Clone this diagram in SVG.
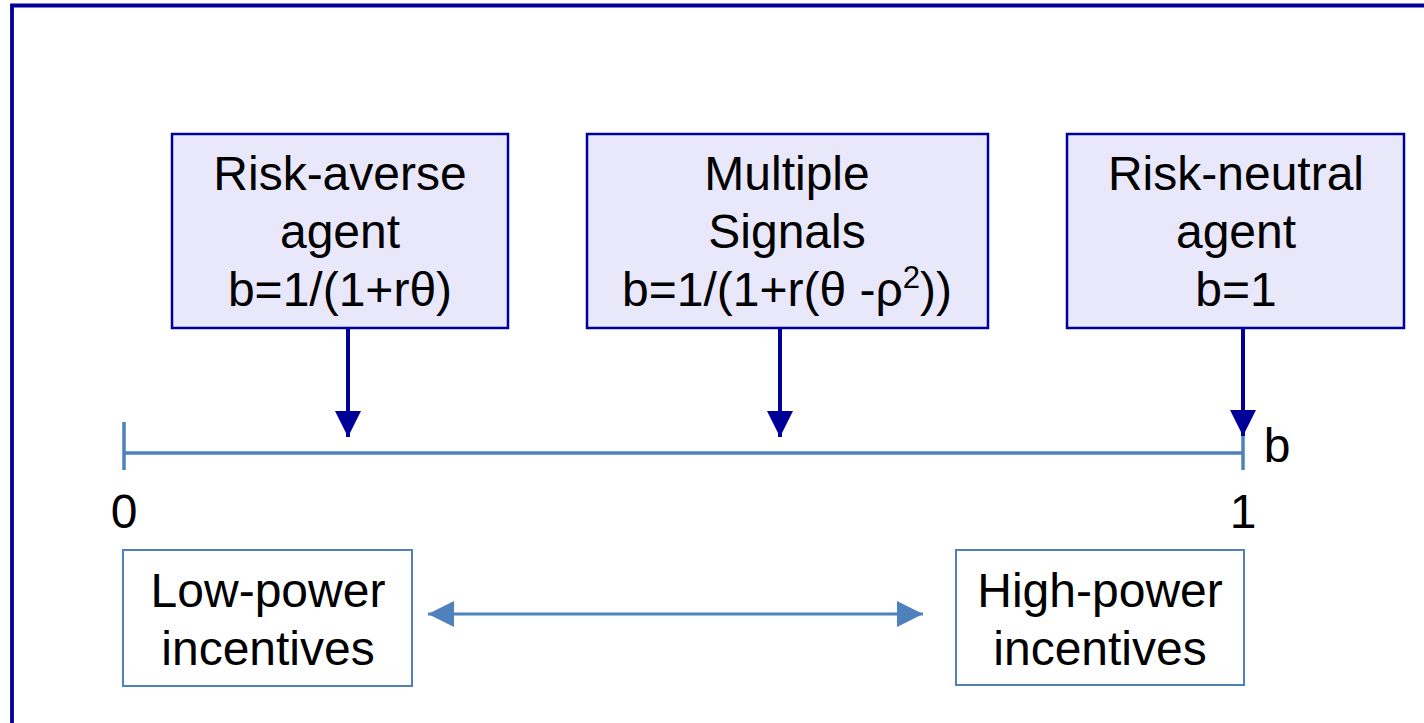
<svg xmlns="http://www.w3.org/2000/svg" width="1424" height="723" viewBox="0 0 1424 723">
<style>
text{font-family:"Liberation Sans",Arial,sans-serif;font-size:48px;fill:#000;text-anchor:middle}
.top{fill:#E8E8FA;stroke:#000099;stroke-width:2.5}
.bot{fill:#fff;stroke:#4F81BD;stroke-width:2}
.dark{stroke:#000099;stroke-width:4;fill:none}
.light{stroke:#4F81BD;stroke-width:3.5;fill:none}
</style>
<defs>
<marker id="ad" markerUnits="userSpaceOnUse" markerWidth="26" markerHeight="26" viewBox="0 0 26 26" refX="26" refY="13" orient="auto"><path d="M0,0 L26,13 L0,26 z" fill="#000099"/></marker>
<marker id="al" markerUnits="userSpaceOnUse" markerWidth="26" markerHeight="26" viewBox="0 0 26 26" refX="26" refY="13" orient="auto-start-reverse"><path d="M0,0 L26,13 L0,26 z" fill="#4F81BD"/></marker>
</defs>
<g id="frame"><path d="M12,723 V5.5 H1424" fill="none" stroke="#000099" stroke-width="3.8"/></g>
<g id="node-risk-averse"><rect class="top" x="172" y="134" width="336" height="194"/>
<text x="340" y="190">Risk-averse</text><text x="340" y="248">agent</text><text x="340" y="306">b=1/(1+rθ)</text></g>
<g id="node-multiple-signals"><rect class="top" x="587" y="134" width="401" height="194"/>
<text x="787" y="190">Multiple</text><text x="787" y="248">Signals</text><text x="787" y="306">b=1/(1+r(θ -ρ<tspan font-size="31" dy="-18">2</tspan><tspan dy="18">))</tspan></text></g>
<g id="node-risk-neutral"><rect class="top" x="1067" y="134" width="337" height="194"/>
<text x="1236" y="190">Risk-neutral</text><text x="1236" y="248">agent</text><text x="1236" y="306">b=1</text></g>
<g id="axis"><path class="light" d="M124,422 V470 M124,453 H1243 M1243,422 V470"/>
<text x="124" y="528">0</text><text x="1243" y="528">1</text><text x="1277" y="462">b</text></g>
<g id="node-low-power"><rect class="bot" x="123" y="550" width="289" height="136"/>
<text x="268" y="607">Low-power</text><text x="268" y="665">incentives</text></g>
<g id="node-high-power"><rect class="bot" x="956" y="550" width="288" height="135"/>
<text x="1100" y="607">High-power</text><text x="1100" y="665">incentives</text></g>
<g id="connectors">
<line class="dark" x1="348" y1="328" x2="348" y2="437" marker-end="url(#ad)"/>
<line class="dark" x1="780" y1="328" x2="780" y2="437" marker-end="url(#ad)"/>
<line class="dark" x1="1243" y1="328" x2="1243" y2="436" marker-end="url(#ad)"/>
<line stroke="#4F81BD" stroke-width="3" x1="428" y1="614" x2="923" y2="614" marker-start="url(#al)" marker-end="url(#al)"/>
</g>
</svg>
